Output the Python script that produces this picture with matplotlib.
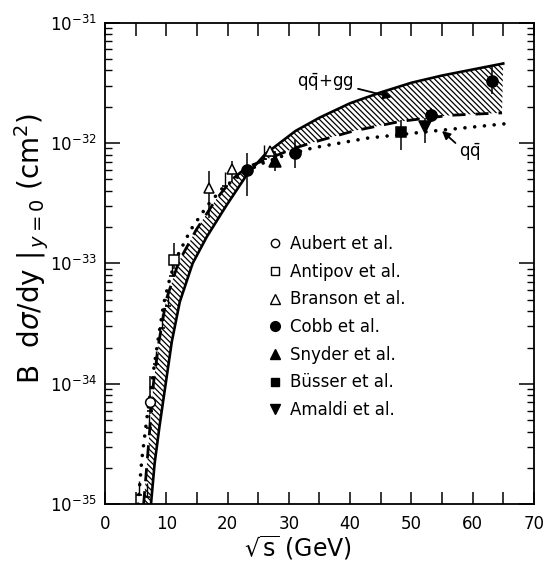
import numpy as np
import matplotlib.pyplot as plt
from matplotlib.lines import Line2D
from matplotlib.ticker import FixedLocator, MultipleLocator, NullFormatter

# theory curves as (sqrt(s), log10 of B dsigma/dy)
sol_x = [7.5, 8.1, 8.9, 9.9, 10.9, 12.2, 14.3, 16.6, 19.8, 23.2, 26.2, 31.1, 35.0, 40.0, 45.0,
         50.0, 55.0, 60.0, 65.0]
sol_y = [-35.0, -34.66, -34.35, -34.0, -33.65, -33.32, -33.0, -32.78, -32.52, -32.26, -32.09,
         -31.9, -31.79, -31.67, -31.58, -31.5, -31.44, -31.39, -31.34]

das_x = [6.3, 6.9, 7.9, 8.8, 10.0, 12.0, 14.9, 18.1, 20.8, 23.2, 26.2, 31.1, 35.0, 40.6, 48.3,
         56.4, 64.8]
das_y = [-35.0, -34.63, -34.0, -33.65, -33.3, -32.99, -32.72, -32.47, -32.3, -32.2, -32.14,
         -32.04, -31.98, -31.9, -31.82, -31.77, -31.75]

dot_x = [5.4, 6.0, 6.8, 7.6, 8.7, 9.6, 10.6, 11.8, 14.0, 16.7, 19.1, 22.0, 25.1, 28.9, 34.0,
         42.8, 53.7, 65.4]
dot_y = [-35.0, -34.63, -34.3, -34.0, -33.62, -33.33, -33.12, -32.94, -32.72, -32.52, -32.38,
         -32.27, -32.18, -32.11, -32.04, -31.96, -31.9, -31.84]

# data points: x, y, lower end of bar, upper end of bar
aubert_x = [7.3]
aubert_y = [7.1e-35]
aubert_lo = [5.6e-35]
aubert_hi = [1.15e-34]

antipov_x = [11.3]
antipov_y = [1.07e-33]
antipov_lo = [9.0e-34]
antipov_hi = [1.48e-33]

branson_x = [17.0, 20.8, 27.0]
branson_y = [4.2e-33, 6.1e-33, 8.5e-33]
branson_lo = [2.4e-33, 4.7e-33, 7.6e-33]
branson_hi = [5.9e-33, 7.1e-33, 9.4e-33]

cobb_x = [23.2, 31.0, 53.2, 63.2]
cobb_y = [6.0e-33, 8.3e-33, 1.71e-32, 3.3e-32]
cobb_lo = [3.6e-33, 6.2e-33, 1.5e-32, 2.55e-32]
cobb_hi = [8.3e-33, 1.06e-32, 1.95e-32, 4.3e-32]

snyder_x = [27.7]
snyder_y = [7.1e-33]
snyder_lo = [5.8e-33]
snyder_hi = [8.6e-33]

busser_x = [48.3]
busser_y = [1.23e-32]
busser_lo = [8.7e-33]
busser_hi = [1.55e-32]

amaldi_x = [52.3]
amaldi_y = [1.35e-32]
amaldi_lo = [1.0e-32]
amaldi_hi = [1.62e-32]

# small unlabelled points along the steep part
small_x = [5.5, 6.9, 7.2, 7.4, 8.3, 9.3, 10.3, 11.0, 19.6, 26.0]
small_y = [1.2e-35, 1.15e-35, 4.3e-35, 6.0e-35, 1.45e-34, 2.9e-34, 4.4e-34, 7.8e-34, 4.4e-33,
           7.4e-33]

labels = ['Aubert et al.', 'Antipov et al.', 'Branson et al.', 'Cobb et al.',
          'Snyder et al.', 'Büsser et al.', 'Amaldi et al.']

yticks = [1e-35, 1e-34, 1e-33, 1e-32, 1e-31]
ytick_labels = ['$10^{-35}$', '$10^{-34}$', '$10^{-33}$', '$10^{-32}$', '$10^{-31}$']

plt.rcParams['font.family'] = 'DejaVu Sans'
plt.rcParams['hatch.linewidth'] = 0.9
fig = plt.figure(figsize=(5.47, 5.64), dpi=100)
ax = fig.add_axes([0.192, 0.106, 0.784, 0.854])

sol = 10.0 ** np.array(sol_y)
das = 10.0 ** np.array(das_y)
dot = 10.0 ** np.array(dot_y)

# hatched band between the solid and dashed curve
ax.fill(np.r_[sol_x, das_x[::-1]], np.r_[sol, das[::-1]], facecolor='none',
        edgecolor='black', hatch='\\\\\\\\\\\\', linewidth=0)

ax.plot(sol_x, sol, color='black', lw=1.9)
ax.plot(das_x, das, color='black', lw=2.0, dashes=(4.7, 3.6))
ax.plot(dot_x, dot, color='black', lw=2.6, linestyle=(0, (0.01, 2.7)), dash_capstyle='round')


def points(x, y, lo, hi, fmt, face, ms):
    y = np.array(y)
    err = [y - np.array(lo), np.array(hi) - y]
    ax.errorbar(x, y, yerr=err, fmt=fmt, color='black', mfc=face, mec='black',
                ms=ms, elinewidth=1.1, capsize=0, mew=1.1, zorder=5)


points(aubert_x, aubert_y, aubert_lo, aubert_hi, 'o', 'white', 7)
points(antipov_x, antipov_y, antipov_lo, antipov_hi, 's', 'white', 6.5)
points(branson_x, branson_y, branson_lo, branson_hi, '^', 'white', 7.5)
points(cobb_x, cobb_y, cobb_lo, cobb_hi, 'o', 'black', 8)
points(snyder_x, snyder_y, snyder_lo, snyder_hi, '^', 'black', 8)
points(busser_x, busser_y, busser_lo, busser_hi, 's', 'black', 7)
points(amaldi_x, amaldi_y, amaldi_lo, amaldi_hi, 'v', 'black', 8)

sy = np.array(small_y)
ax.errorbar(small_x, sy, yerr=[sy * 0.0, sy * 0.3], fmt='_', color='black', ms=4,
            elinewidth=1, capsize=0, mew=1.2)

# curve labels with arrows
ax.text(36.0, 10 ** -31.5, r'q$\bar{\rm q}$+gg', fontsize=12, ha='center', va='center')
ax.annotate('', xy=(46.8, 10 ** -31.62), xytext=(41.3, 10 ** -31.55),
            arrowprops=dict(arrowstyle='-|>', color='black', lw=1.3, mutation_scale=12,
                            shrinkA=0, shrinkB=0))
ax.text(57.8, 10 ** -32.08, r'q$\bar{\rm q}$', fontsize=12, ha='left', va='center')
ax.annotate('', xy=(55.0, 10 ** -31.9), xytext=(57.2, 10 ** -32.0),
            arrowprops=dict(arrowstyle='-|>', color='black', lw=1.3, mutation_scale=12,
                            shrinkA=0, shrinkB=0))

handles = [
    Line2D([], [], ls='none', marker='o', mfc='white', mec='black', ms=6),
    Line2D([], [], ls='none', marker='s', mfc='white', mec='black', ms=6),
    Line2D([], [], ls='none', marker='^', mfc='white', mec='black', ms=7),
    Line2D([], [], ls='none', marker='o', mfc='black', mec='black', ms=7),
    Line2D([], [], ls='none', marker='^', mfc='black', mec='black', ms=7),
    Line2D([], [], ls='none', marker='s', mfc='black', mec='black', ms=6),
    Line2D([], [], ls='none', marker='v', mfc='black', mec='black', ms=7),
]
ax.legend(handles, labels, loc='upper left', bbox_to_anchor=(0.345, 0.59), frameon=False,
          fontsize=12, handlelength=0.8, handletextpad=0.5, labelspacing=0.58)

ax.set_xlim(0, 70)
ax.set_yscale('log')
ax.set_ylim(1e-35, 1e-31)

ax.xaxis.set_major_locator(MultipleLocator(10))
ax.xaxis.set_minor_locator(MultipleLocator(5))
ax.yaxis.set_major_locator(FixedLocator(yticks))
ax.set_yticklabels(ytick_labels)
minor = [m * 10.0 ** e for e in range(-35, -31) for m in range(2, 10)]
ax.yaxis.set_minor_locator(FixedLocator(minor))
ax.yaxis.set_minor_formatter(NullFormatter())

ax.tick_params(axis='x', which='both', direction='in', top=True, length=9, width=1.1,
               labelsize=12, pad=8)
ax.tick_params(axis='y', which='major', direction='in', right=True, length=11, width=1.1,
               labelsize=12, pad=6)
ax.tick_params(axis='y', which='minor', direction='in', right=True, length=5, width=1.0)
for s in ax.spines.values():
    s.set_linewidth(1.3)

ax.set_xlabel(r'$\sqrt{\rm s}$ (GeV)', fontsize=17)
ax.xaxis.set_label_coords(0.45, -0.062)
ax.set_ylabel(r'B  d$\sigma$/dy $|_{\,y=0}$ (cm$^2$)', fontsize=20)
ax.yaxis.set_label_coords(-0.125, 0.53)

fig.savefig('out.png', dpi=100)
